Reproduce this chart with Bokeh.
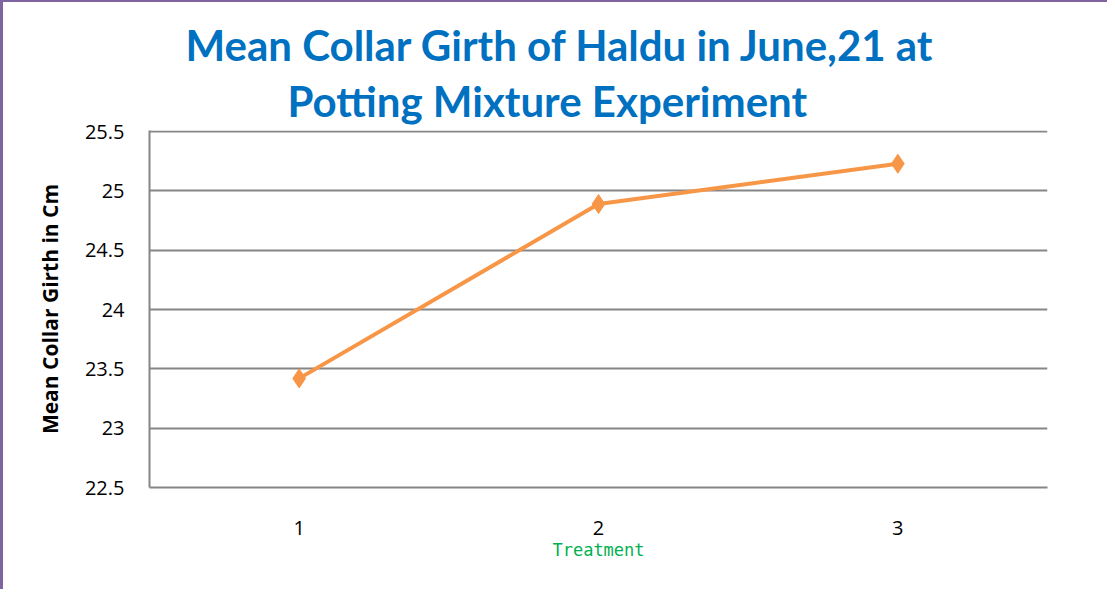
from bokeh.plotting import figure
from bokeh.models import Title, FactorRange, Range1d, FixedTicker, CustomJSTickFormatter, ColumnDataSource, InlineStyleSheet
from bokeh.embed import file_html
from bokeh.resources import INLINE

# ---- data ----
treatments = ["1", "2", "3"]
girth = [23.42, 24.89, 25.23]
y_ticks = [22.5, 23.0, 23.5, 24.0, 24.5, 25.0, 25.5]
title_line1 = "Mean Collar Girth of Haldu in June,21 at"
title_line2 = "Potting Mixture Experiment"
x_label = "Treatment"
y_label = "Mean Collar Girth in Cm"

src = ColumnDataSource(dict(x=treatments, y=girth))

p = figure(width=1107, height=589, output_backend="svg", toolbar_location=None,
           x_range=FactorRange(*treatments, range_padding=0),
           y_range=Range1d(y_ticks[0], y_ticks[-1] + 0.01))
p.title = None
p.min_border_left = 149
p.min_border_right = 60
p.min_border_top = 130
p.min_border_bottom = 102
p.border_fill_color = None
p.background_fill_color = "white"
p.outline_line_color = None
p.styles = {"background-color": "white", "box-shadow": "inset 3px 2px 0 0 #8064A2"}
css = """
text[fill="#00b050" i], text[fill="rgb(0,176,80)"], text[fill="rgb(0, 176, 80)"],
text[font-family*="Mono"], text[style*="Mono"], text[font*="Mono"] { letter-spacing: 13px; }
"""
p.stylesheets = [InlineStyleSheet(css=css)]

title_blue = "#0070C0"
t2 = Title(text=title_line2, align="left", text_font="Lato", text_font_style="bold",
           text_font_size="42px", text_color=title_blue, offset=138, standoff=9)
t1 = Title(text=title_line1, align="left", text_font="Lato", text_font_style="bold",
           text_font_size="42px", text_color=title_blue, offset=36, standoff=0)
p.add_layout(t2, "above")
p.add_layout(t1, "above")

p.line("x", "y", source=src, line_color="#F79646", line_width=4)
p.scatter("x", "y", source=src, marker="diamond", size=19,
          fill_color="#F79646", line_color="#F79646")

# grid
p.xgrid.grid_line_color = None
p.ygrid.grid_line_color = "#868686"
p.ygrid.grid_line_width = 2
p.yaxis.ticker = FixedTicker(ticks=y_ticks)
p.yaxis.formatter = CustomJSTickFormatter(code="return String(+tick.toFixed(2));")

for ax in (p.xaxis, p.yaxis):
    ax.major_tick_line_color = None
    ax.minor_tick_line_color = None
    ax.major_label_text_font = "Open Sans"
    ax.major_label_text_font_size = "20px"
    ax.major_label_text_color = "black"
    ax.axis_line_color = "#868686"
    ax.axis_line_width = 2

p.yaxis.major_label_standoff = 19
p.yaxis.axis_label = y_label
p.yaxis.axis_label_text_font = "Open Sans"
p.yaxis.axis_label_text_font_style = "bold"
p.yaxis.axis_label_text_font_size = "21px"
p.yaxis.axis_label_text_color = "black"
p.yaxis.axis_label_standoff = 18

p.xaxis.major_label_standoff = 27
p.xaxis.axis_label = x_label
p.xaxis.axis_label_text_font = "DejaVu Sans Mono"
p.xaxis.axis_label_text_font_style = "normal"
p.xaxis.axis_label_text_font_size = "17px"
p.xaxis.axis_label_text_color = "#00B050"
p.xaxis.axis_label_standoff = 2

open("out.html", "w").write(file_html(p, INLINE))
